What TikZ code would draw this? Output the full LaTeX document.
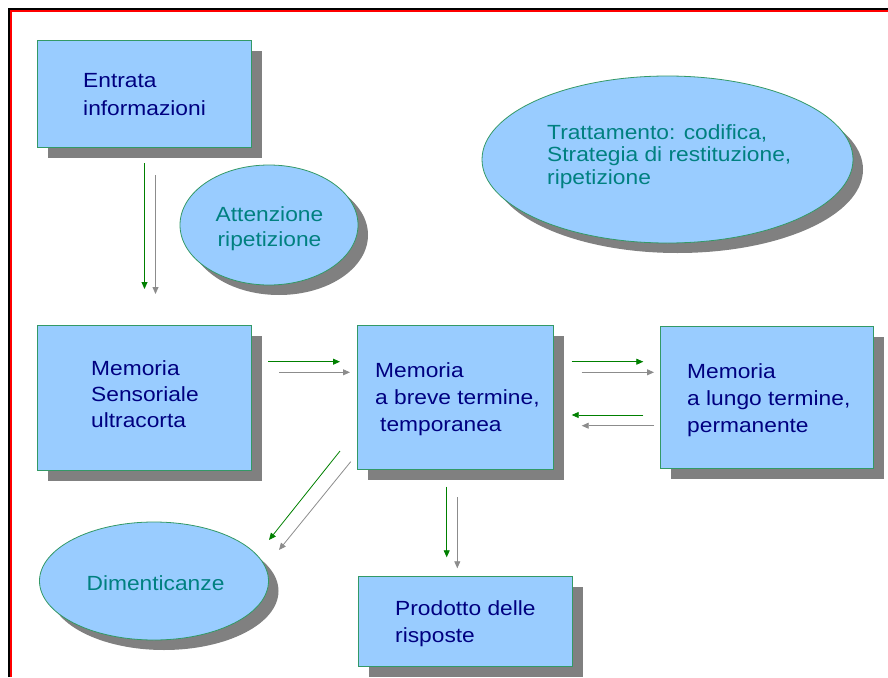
\documentclass[tikz,border=0pt]{standalone}
\usepackage{fontspec}
\setmainfont{Liberation Sans}[FakeStretch=1.11]
\usetikzlibrary{shapes.geometric,shadows,arrows.meta}
\definecolor{fillblue}{HTML}{99CCFF}
\definecolor{edgegreen}{RGB}{51,153,102}
\definecolor{navytext}{RGB}{0,0,128}
\definecolor{tealtext}{RGB}{0,128,128}
\definecolor{shadowgray}{HTML}{808080}
\definecolor{arrowgreen}{RGB}{0,128,0}
\definecolor{arrowgray}{HTML}{8C8C8C}
\tikzset{
  boxshape/.style={rectangle, draw=edgegreen, line width=0.8pt, fill=fillblue, inner sep=0pt,
    drop shadow={shadow xshift=11pt, shadow yshift=-11pt, fill=shadowgray, opacity=1}},
  ellshape/.style={ellipse, draw=edgegreen, line width=0.8pt, fill=fillblue, inner sep=0pt,
    drop shadow={shadow xshift=10pt, shadow yshift=-10pt, fill=shadowgray, opacity=1}},
  boxtext/.style={inner sep=0pt, anchor=base west, align=left, text=navytext},
  elltext/.style={inner sep=0pt, align=left, text=tealtext},
  garrow/.style={draw=arrowgreen, line width=0.8pt, -{Triangle[length=7pt,width=6pt]}},
  grarrow/.style={draw=arrowgray, line width=0.8pt, -{Triangle[length=7pt,width=6pt]}},
}
\begin{document}
\begin{tikzpicture}[x=1pt,y=-1pt]
\useasboundingbox (0,0) rectangle (888,677);
% frame
\draw[black, line width=2.2pt] (9,677) -- (9,9) -- (888,9);
\draw[red, line width=1.8pt] (11,677) -- (11,11) -- (888,11);

% boxes
\node[boxshape, minimum width=214pt, minimum height=107pt] (entrata) at (144,93.5) {};
\node[boxshape, minimum width=214pt, minimum height=145pt] (sens) at (144,397.5) {};
\node[boxshape, minimum width=196pt, minimum height=144pt] (breve) at (455,397) {};
\node[boxshape, minimum width=213pt, minimum height=142pt] (lungo) at (766.5,397) {};
\node[boxshape, minimum width=214pt, minimum height=90pt] (prod) at (465,621) {};

% ellipses
\node[ellshape, minimum width=178pt, minimum height=120pt, drop shadow={shadow xshift=7pt, shadow yshift=-7pt, fill=shadowgray, opacity=1}] (att) at (269,225) {};
\node[ellshape, minimum width=371pt, minimum height=167pt] (tratt) at (667.5,159.5) {};
\node[ellshape, minimum width=229pt, minimum height=118pt] (dim) at (154,581) {};

% texts (base anchor = baseline of the last line)
\node[boxtext, font=\fontsize{20.5}{28}\selectfont] (tentrata) at (83,115.3) {Entrata\\informazioni};
\node[boxtext, font=\fontsize{20.5}{26}\selectfont] (tsens) at (91,427) {Memoria\\Sensoriale\\ultracorta};
\node[boxtext, font=\fontsize{20.5}{27}\selectfont] (tbreve) at (375,431) {Memoria\\a breve termine,\\\hspace*{5pt}temporanea};
\node[boxtext, font=\fontsize{20.5}{27}\selectfont] (tlungo) at (687,432.3) {Memoria\\a lungo termine,\\permanente};
\node[boxtext, font=\fontsize{20.5}{27}\selectfont] (tprod) at (395,642) {Prodotto delle\\risposte};
\node[elltext, anchor=base, align=center, font=\fontsize{20.5}{25}\selectfont] (tatt) at (269.5,246.7) {Attenzione\\ripetizione};
\node[elltext, anchor=base west, font=\fontsize{20.5}{22.5}\selectfont] (ttratt) at (547,184.3) {Trattamento: codifica,\\Strategia di restituzione,\\ripetizione};
\node[elltext, anchor=base, font=\fontsize{20.5}{25}\selectfont] (tdim) at (155.5,590) {Dimenticanze};

% arrow end points
\coordinate (a1s) at (144.5,163); \coordinate (a1e) at (144.5,289);
\coordinate (b1s) at (155.5,175); \coordinate (b1e) at (155.5,294);
\coordinate (a2s) at (268,361.7); \coordinate (a2e) at (340,361.7);
\coordinate (b2s) at (279,372.3); \coordinate (b2e) at (350,372.3);
\coordinate (a3s) at (571.7,361.7); \coordinate (a3e) at (643.3,361.7);
\coordinate (b3s) at (581.7,372.3); \coordinate (b3e) at (654,372.3);
\coordinate (a4s) at (643.3,415); \coordinate (a4e) at (571.7,415);
\coordinate (b4s) at (654,425.7); \coordinate (b4e) at (581.7,425.7);
\coordinate (a5s) at (340,451); \coordinate (a5e) at (269,540);
\coordinate (b5s) at (350.7,461.7); \coordinate (b5e) at (279,550);
\coordinate (a6s) at (446.7,486.7); \coordinate (a6e) at (446.7,557.3);
\coordinate (b6s) at (457.3,497.3); \coordinate (b6e) at (457.3,568.3);

\draw[garrow] (a1s) -- (a1e);
\draw[grarrow] (b1s) -- (b1e);
\draw[garrow] (a2s) -- (a2e);
\draw[grarrow] (b2s) -- (b2e);
\draw[garrow] (a3s) -- (a3e);
\draw[grarrow] (b3s) -- (b3e);
\draw[garrow] (a4s) -- (a4e);
\draw[grarrow] (b4s) -- (b4e);
\draw[garrow] (a5s) -- (a5e);
\draw[grarrow] (b5s) -- (b5e);
\draw[garrow] (a6s) -- (a6e);
\draw[grarrow] (b6s) -- (b6e);
\end{tikzpicture}
\end{document}
